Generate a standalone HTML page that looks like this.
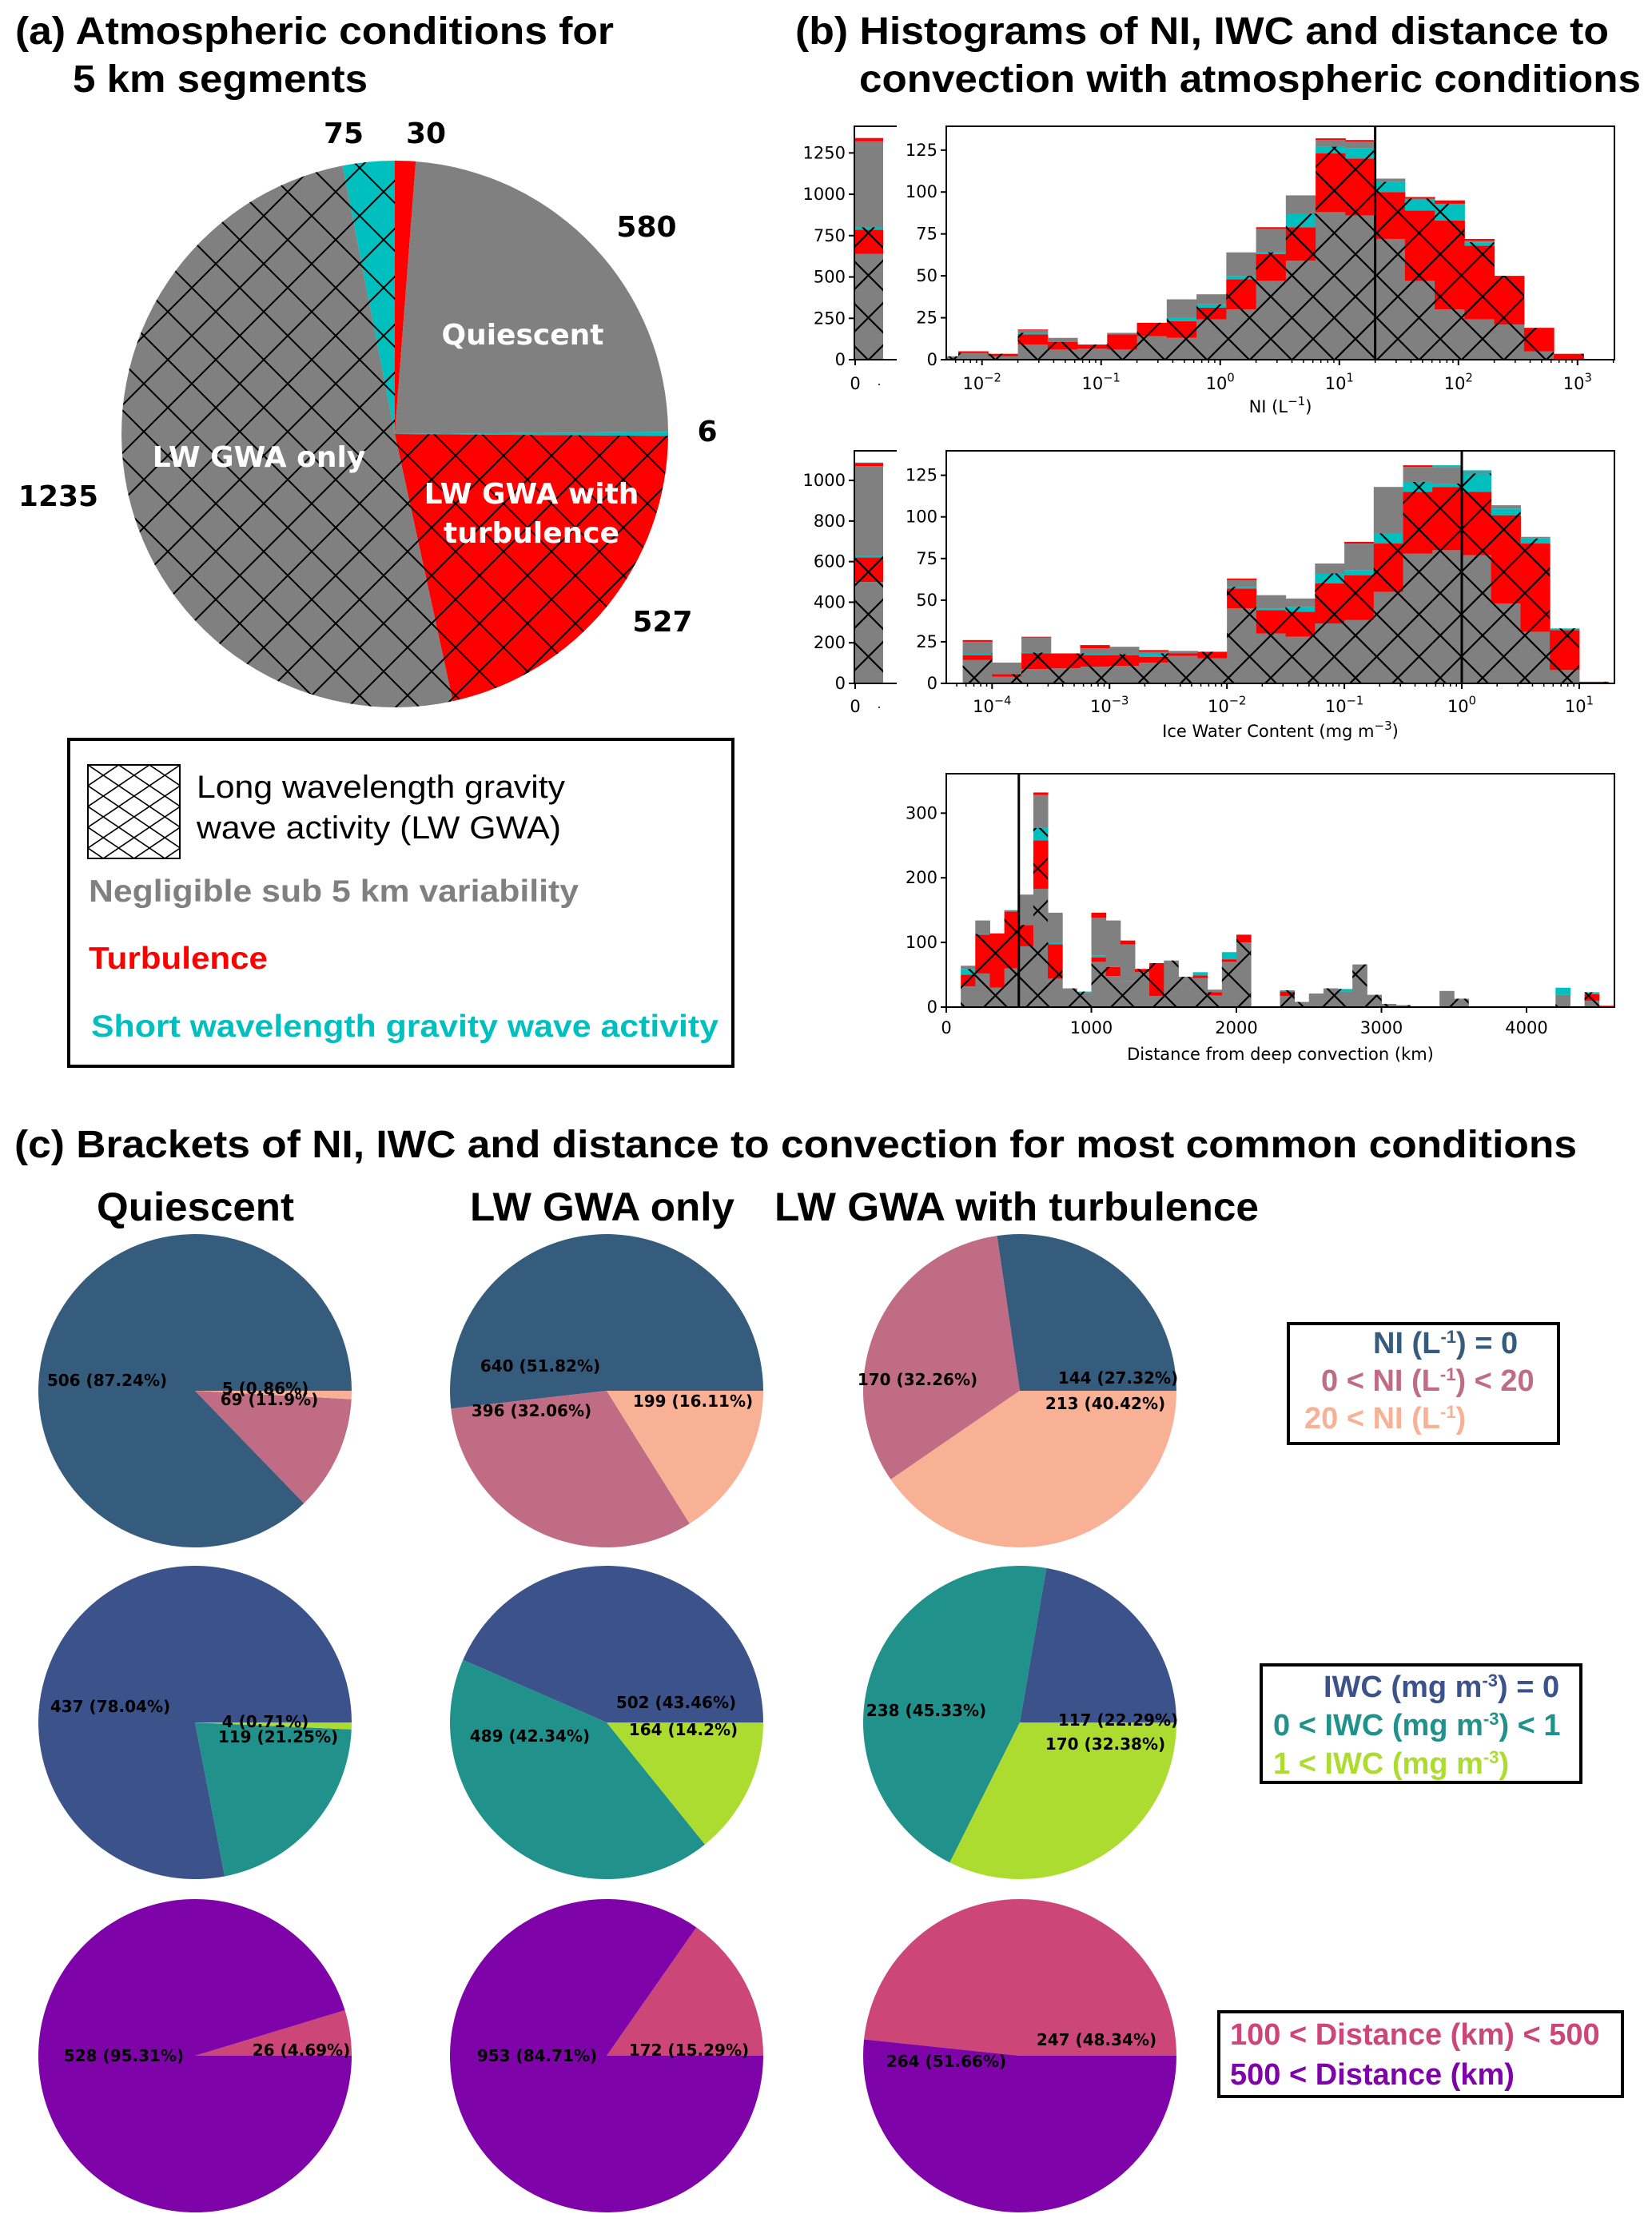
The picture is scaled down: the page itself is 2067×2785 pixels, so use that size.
<!DOCTYPE html>
<html><head><meta charset="utf-8"><style>
html,body{margin:0;padding:0;background:#fff}
svg{display:block}
.t{font-family:"Liberation Sans",Arial,sans-serif;font-weight:bold}
.d{font-family:"DejaVu Sans","Liberation Sans",sans-serif}
</style></head><body>
<svg id="fig" xmlns="http://www.w3.org/2000/svg" width="2067" height="2785" viewBox="0 0 2067 2785">
<defs>
<pattern id="hatchA" patternUnits="userSpaceOnUse" width="60" height="60"><path d="M0,0L60,60M60,0L0,60" stroke="#000" stroke-width="2" fill="none"/></pattern>
<pattern id="hatchH" patternUnits="userSpaceOnUse" width="53" height="53"><path d="M0,0L53,53M53,0L0,53" stroke="#000" stroke-width="2.2" fill="none"/></pattern>
<pattern id="hatchL" patternUnits="userSpaceOnUse" width="38.5" height="26" x="110" y="957"><path d="M0,0L38.5,26M38.5,0L0,26" stroke="#000" stroke-width="1.6" fill="none"/></pattern>
<clipPath id="clipNI"><rect x="1184" y="158" width="836" height="292"/></clipPath>
<clipPath id="clipIWC"><rect x="1184" y="564" width="836" height="291"/></clipPath>
<clipPath id="clipD"><rect x="1184" y="968" width="836" height="292"/></clipPath>
</defs>

<text class="t" x="19" y="55" font-size="48" textLength="749" lengthAdjust="spacingAndGlyphs">(a) Atmospheric conditions for</text>
<text class="t" x="91" y="115" font-size="48" textLength="369" lengthAdjust="spacingAndGlyphs">5 km segments</text>
<text class="t" x="995" y="55" font-size="48" textLength="1018" lengthAdjust="spacingAndGlyphs">(b) Histograms of NI, IWC and distance to</text>
<text class="t" x="1075" y="115" font-size="48" textLength="978" lengthAdjust="spacingAndGlyphs">convection with atmospheric conditions</text>

<g id="pieA"></g>
<g class="d" font-weight="bold" font-size="36" text-anchor="middle">
<text x="430" y="179">75</text>
<text x="533" y="179">30</text>
<text x="809" y="296">580</text>
<text x="885" y="552">6</text>
<text x="829" y="790">527</text>
<text x="73" y="633">1235</text>
<text x="654" y="431" fill="#fff">Quiescent</text>
<text x="324" y="584" fill="#fff">LW GWA only</text>
<text x="665" y="630" fill="#fff">LW GWA with</text>
<text x="665" y="679" fill="#fff">turbulence</text>
</g>

<g>
<rect x="86" y="925" width="831" height="409" fill="none" stroke="#000" stroke-width="4"/>
<rect x="110" y="957" width="115" height="117" fill="url(#hatchL)" stroke="#000" stroke-width="2"/>
<text x="246" y="998" font-family="Liberation Sans, sans-serif" font-size="40" textLength="461" lengthAdjust="spacingAndGlyphs">Long wavelength gravity</text>
<text x="246" y="1049" font-family="Liberation Sans, sans-serif" font-size="40" textLength="456" lengthAdjust="spacingAndGlyphs">wave activity (LW GWA)</text>
<text class="t" x="111" y="1128" font-size="39" fill="#808080" textLength="613" lengthAdjust="spacingAndGlyphs">Negligible sub 5 km variability</text>
<text class="t" x="111" y="1212" font-size="39" fill="#ff0000" textLength="224" lengthAdjust="spacingAndGlyphs">Turbulence</text>
<text class="t" x="114" y="1297" font-size="39" fill="#00bfbf" textLength="785" lengthAdjust="spacingAndGlyphs">Short wavelength gravity wave activity</text>
</g>

<g id="histNI"></g>
<g id="histIWC"></g>
<g id="histD"></g>

<text class="t" x="18" y="1448" font-size="48" textLength="1955" lengthAdjust="spacingAndGlyphs">(c) Brackets of NI, IWC and distance to convection for most common conditions</text>
<text class="t" x="121" y="1527" font-size="50" textLength="247" lengthAdjust="spacingAndGlyphs">Quiescent</text>
<text class="t" x="588" y="1527" font-size="50" textLength="331" lengthAdjust="spacingAndGlyphs">LW GWA only</text>
<text class="t" x="969" y="1527" font-size="50" textLength="606" lengthAdjust="spacingAndGlyphs">LW GWA with turbulence</text>

<g id="piesC"></g>

<g class="t" font-size="38">
<rect x="1612" y="1656" width="338" height="150" fill="none" stroke="#000" stroke-width="4"/>
<text x="1718" y="1693" fill="#355c7d">NI (L<tspan dy="-13" font-size="22">-1</tspan><tspan dy="13">) = 0</tspan></text>
<text x="1653" y="1740" fill="#c06c84">0 &lt; NI (L<tspan dy="-13" font-size="22">-1</tspan><tspan dy="13">) &lt; 20</tspan></text>
<text x="1632" y="1787" fill="#f8b195">20 &lt; NI (L<tspan dy="-13" font-size="22">-1</tspan><tspan dy="13">)</tspan></text>
</g>
<g class="t" font-size="38">
<rect x="1578" y="2083" width="400" height="147" fill="none" stroke="#000" stroke-width="4"/>
<text x="1656" y="2123" fill="#3b528b">IWC (mg m<tspan dy="-13" font-size="22">-3</tspan><tspan dy="13">) = 0</tspan></text>
<text x="1593" y="2171" fill="#21918c">0 &lt; IWC (mg m<tspan dy="-13" font-size="22">-3</tspan><tspan dy="13">) &lt; 1</tspan></text>
<text x="1593" y="2219" fill="#addc30">1 &lt; IWC (mg m<tspan dy="-13" font-size="22">-3</tspan><tspan dy="13">)</tspan></text>
</g>
<g class="t" font-size="38">
<rect x="1525" y="2517" width="505" height="106" fill="none" stroke="#000" stroke-width="4"/>
<text x="1539" y="2558" fill="#cc4778">100 &lt; Distance (km) &lt; 500</text>
<text x="1539" y="2608" fill="#7e03a8">500 &lt; Distance (km)</text>
</g>
</svg>
<script>
// ---------- data: panel (a) ----------
const condNames = ['turbulence-only','quiescent','short-gwa-only','lw-gwa-turbulence','lw-gwa-only','lw-gwa-short-gwa'];
const condValues = [30, 580, 6, 527, 1235, 75];
const condHatched = [false, false, false, true, true, true];

// ---------- data: panel (b) ----------
// layers: LW-only(hatched gray), LW+turb(hatched red), LW+short(hatched cyan), quiescent, turbulence, short GWA
const niBinStart = -2.449, niBinStep = 0.25;
const niGrayH = [2,4,2,9,6,6.5,6,14,13,24,30,47,59,88,86,72,47,30,24,21,5,0];
const niRedH  = [0,0,1.5,6,4.5,2.5,9,8,10,7,18,16,20,35,34,28,42,53,44,29,14,3.5];
const niCyanH = [0,0,0,1,0,0,0,0,2,2,2,1,8,4,6,6,7,10,2,0,0,0];
const niGray  = [0,0,0,1.5,2.5,0,1,0,11,6,14,14,11,4,4,2,0,0,1,0,0,0];
const niRed   = [0,1,0,0.5,0,0,0,0,0,0,0,1,0,1,1,0,1,2,1,0,0,0];
const niCyan  = [0,0,0,0,0,0,0,0,0,0,0,0,0,0,0,0,0,0,0,0,0,0];
const niZero  = [640,145,15,520,20,0];

const iwcBinStart = -4.25, iwcBinStep = 0.25;
const iwcGrayH = [14,4,8.5,9,10,10.5,12.5,16.5,15,45,30,28,36,38,55,78,80,77,48,31,8,0];
const iwcRedH  = [3,1.5,9.5,9,7,6.5,3.5,1.5,4,12,14,15,24,27,29,37,38,38,53,53,24,1];
const iwcCyanH = [1,0,0.5,0,1,0.5,2,0,0,1,1,3,6,3,6,6,2,11,4,3,1,0];
const iwcGray  = [7,7,9,0,3,4.5,1,1.5,0,4,8,5,6,16,28,9,10,1,2,1,0,0];
const iwcRed   = [1,0,0.5,0,2,0,1,0,0,1,0,0,0,1,0,1,0,0,0,0,0,0];
const iwcCyan  = [0,0,0,0,0,0,0,0,0,0,0,0,0,0,0,0,1,1,0,0,0,0];
const iwcZero  = [500,120,10,440,15,3];

const distBinStart = 100, distBinStep = 100;
const distGrayH = [32,52,30,60,94,183,44,29,22,70,48,40,54,17,72,47,45,18,70,100,0,0,17,8,21,29,24,66,19,5,3,0,0,25,13,0,0,0,0,0,0,19,0,10,0];
const distRedH  = [18,60,84,88,33,75,53,0,0,7,14,0,5,51,0,0,4,5,4,12,0,0,7,0,0,0,0,0,0,0,0,0,0,0,0,0,0,0,0,0,0,0,0,10,2];
const distCyanH = [9,1,0,2,0,19,2,0,2,3,0,0,0,0,0,0,5,0,11,0,0,0,2,0,0,0,4,0,0,0,0,0,0,0,0,0,0,0,0,0,0,11,0,3,0];
const distGray  = [5,21,0,0,47,51,47,0,0,58,72,57,0,0,0,0,0,4,0,0,0,0,0,0,0,0,0,0,0,0,0,0,0,0,0,0,0,0,0,0,0,0,0,0,0];
const distRed   = [0,0,0,0,0,4,0,0,0,8,0,6,0,0,0,0,0,0,0,0,0,0,0,0,0,0,0,0,0,0,0,0,0,0,0,0,0,0,0,0,0,0,0,0,0];
const distCyan  = [0,0,0,0,0,0,0,0,0,0,0,0,0,0,0,0,0,0,0,0,0,0,0,0,0,0,0,0,0,0,0,0,0,0,0,0,0,0,0,0,0,0,0,0,0];

const niYTicks = [0,25,50,75,100,125];
const niZeroTicks = [0,250,500,750,1000,1250];
const niXTicks = [-2,-1,0,1,2,3];
const iwcYTicks = [0,25,50,75,100,125];
const iwcZeroTicks = [0,200,400,600,800,1000];
const iwcXTicks = [-4,-3,-2,-1,0,1];
const distYTicks = [0,100,200,300];
const distXTicks = [0,1000,2000,3000,4000];
const niThreshold = 20, iwcThreshold = 1, distThreshold = 500;

// ---------- data: panel (c) ----------
const bracketCats = ['quiescent','lw-gwa-only','lw-gwa-turbulence'];
const niBrackets = [[506,69,5],[640,396,199],[144,170,213]];
const iwcBrackets = [[437,119,4],[502,489,164],[117,238,170]];
const distBrackets = [[26,528],[172,953],[247,264]];
const niLabels = [['506 (87.24%)','69 (11.9%)','5 (0.86%)'],['640 (51.82%)','396 (32.06%)','199 (16.11%)'],['144 (27.32%)','170 (32.26%)','213 (40.42%)']];
const iwcLabels = [['437 (78.04%)','119 (21.25%)','4 (0.71%)'],['502 (43.46%)','489 (42.34%)','164 (14.2%)'],['117 (22.29%)','238 (45.33%)','170 (32.38%)']];
const distLabels = [['26 (4.69%)','528 (95.31%)'],['172 (15.29%)','953 (84.71%)'],['247 (48.34%)','264 (51.66%)']];

// ---------- drawing ----------
const NS = 'http://www.w3.org/2000/svg';
function mk(tag, attrs, parent){ const e=document.createElementNS(NS,tag); for(const k in attrs) e.setAttribute(k,attrs[k]); if(parent) parent.appendChild(e); return e; }
function pt(cx,cy,r,deg){ const a=deg*Math.PI/180; return [cx+r*Math.cos(a), cy-r*Math.sin(a)]; }
function slicePath(cx,cy,r,a0,a1){
  const p0=pt(cx,cy,r,a0), p1=pt(cx,cy,r,a1);
  const large=Math.abs(a1-a0)>180?1:0, sweep=a1<a0?1:0;
  return `M${cx},${cy}L${p0[0]},${p0[1]}A${r},${r} 0 ${large} ${sweep} ${p1[0]},${p1[1]}Z`;
}
const condColors = ['#ff0000','#808080','#00bfbf','#ff0000','#808080','#00bfbf'];

// panel (a) pie: start at top, clockwise
(function(){
  const g=document.getElementById('pieA');
  const cx=494, cy=543, r=342;
  const tot=condValues.reduce((a,b)=>a+b,0);
  let cum=0;
  condValues.forEach((v,i)=>{
    const a0=90-cum/tot*360, a1=90-(cum+v)/tot*360; cum+=v;
    const d=slicePath(cx,cy,r,a0,a1);
    const s=mk('path',{d:d,fill:condColors[i]},g);
    
    
    if(condHatched[i]){
      const h=mk('path',{d:d,fill:'url(#hatchA)'},g);
      
      
    }
  });
})();

const layerColors=['#808080','#ff0000','#00bfbf','#808080','#ff0000','#00bfbf'];

function supText(parent,x,y,base,exp,size,anchor){
  const t=mk('text',{x:x,y:y,'font-size':size,'text-anchor':anchor,'class':'d'},parent);
  t.appendChild(document.createTextNode(base));
  const s=mk('tspan',{dy:-size*0.45,'font-size':size*0.7},t);
  s.textContent=exp;
  return t;
}

function drawHist(cfg){
  const g=document.getElementById(cfg.id);
  const L=1184,R=2020,T=cfg.top,B=cfg.bottom;
  const xs=v=>L+(v-cfg.xmin)/(cfg.xmax-cfg.xmin)*(R-L);
  const ys=c=>B-c/cfg.ymax*(B-T);
  const plot=mk('g',{'clip-path':'url(#'+cfg.clip+')'},g);
  
  
  const n=cfg.layers[0].length;
  for(let i=0;i<n;i++){
    const e0=cfg.start+i*cfg.step, e1=e0+cfg.step;
    const x0=xs(e0), x1=xs(e1);
    let cum=0;
    cfg.layers.forEach((arr,li)=>{
      const v=arr[i]; if(v<=0) return;
      const r=mk('rect',{x:x0,y:ys(cum+v),width:x1-x0+0.5,height:ys(cum)-ys(cum+v),fill:layerColors[li]},plot);
      
      
      cum+=v;
    });
    const hv=cfg.layers[0][i]+cfg.layers[1][i]+cfg.layers[2][i];
    if(hv>0){
      const h=mk('rect',{x:x0,y:ys(hv),width:x1-x0,height:ys(0)-ys(hv),fill:'url(#hatchH)'},plot);
      
      
    }
  }
  // threshold line
  const tl=mk('line',{x1:xs(cfg.thr),x2:xs(cfg.thr),y1:T,y2:B,stroke:'#000','stroke-width':3},g);
  
  
  const fr=mk('rect',{x:L,y:T,width:R-L,height:B-T,fill:'none',stroke:'#000','stroke-width':2},g);
  
  
  // y ticks
  cfg.yticks.forEach(v=>{
    const y=ys(v);
    mk('line',{x1:L-7,x2:L,y1:y,y2:y,stroke:'#000','stroke-width':2},g);
    const t=mk('text',{x:L-11,y:y+7,'font-size':21,'text-anchor':'end','class':'d'},g);
    t.textContent=v;
    
    
  });
  // x ticks
  if(cfg.log){
    for(let d=Math.floor(cfg.xmin);d<=Math.ceil(cfg.xmax);d++){
      for(let m=2;m<10;m++){
        const v=d+Math.log10(m); if(v<cfg.xmin||v>cfg.xmax) continue;
        mk('line',{x1:xs(v),x2:xs(v),y1:B,y2:B+4,stroke:'#000','stroke-width':1.5},g);
      }
    }
    cfg.xticks.forEach(v=>{
      mk('line',{x1:xs(v),x2:xs(v),y1:B,y2:B+7,stroke:'#000','stroke-width':2},g);
      const t=supText(g,xs(v),cfg.xlabY,'10',(v<0?'\u2212':'')+Math.abs(v),21,'middle');
      
      
    });
  } else {
    cfg.xticks.forEach(v=>{
      mk('line',{x1:xs(v),x2:xs(v),y1:B,y2:B+7,stroke:'#000','stroke-width':2},g);
      const t=mk('text',{x:xs(v),y:cfg.xlabY,'font-size':21,'text-anchor':'middle','class':'d'},g);
      t.textContent=v;
      
      
    });
  }
  // axis title
  const at=mk('text',{x:1602,y:cfg.titleY,'font-size':21,'text-anchor':'middle','class':'d'},g);
  at.appendChild(document.createTextNode(cfg.title[0]));
  if(cfg.title[1]){ const s=mk('tspan',{dy:-9,'font-size':15},at); s.textContent=cfg.title[1]; const s2=mk('tspan',{dy:9},at); s2.textContent=cfg.title[2]; }
  
  
  // zero-value side axis
  if(cfg.zero){
    const zs=c=>B-c/cfg.zmax*(B-T);
    const zx0=1069, zx1=1105;
    let cum=0;
    cfg.zero.forEach((v,li)=>{
      if(v<=0) return;
      const r=mk('rect',{x:zx0,y:zs(cum+v),width:zx1-zx0,height:zs(cum)-zs(cum+v),fill:layerColors[li]},g);
      
      
      cum+=v;
    });
    const hv=cfg.zero[0]+cfg.zero[1]+cfg.zero[2];
    const zh=mk('rect',{x:zx0,y:zs(hv),width:zx1-zx0,height:zs(0)-zs(hv),fill:'url(#hatchH)'},g);
    
    
    mk('line',{x1:1069,x2:1069,y1:T,y2:B,stroke:'#000','stroke-width':2},g);
    mk('line',{x1:1068,x2:1122,y1:T,y2:T,stroke:'#000','stroke-width':2},g);
    mk('line',{x1:1068,x2:1122,y1:B,y2:B,stroke:'#000','stroke-width':2},g);
    cfg.zticks.forEach(v=>{
      const y=zs(v);
      mk('line',{x1:1062,x2:1069,y1:y,y2:y,stroke:'#000','stroke-width':2},g);
      const t=mk('text',{x:1058,y:y+7,'font-size':21,'text-anchor':'end','class':'d'},g);
      t.textContent=v;
      
      
    });
    mk('line',{x1:1070,x2:1070,y1:B,y2:B+7,stroke:'#000','stroke-width':2},g);
    const z=mk('text',{x:1070,y:cfg.xlabY,'font-size':21,'text-anchor':'middle','class':'d'},g);
    z.textContent='0';
    
    
    mk('circle',{cx:1100,cy:cfg.xlabY-6,r:1,fill:'#000'},g);
  }
}

drawHist({id:'histNI',name:'ni-hist',clip:'clipNI',top:158,bottom:450,xmin:-2.30,xmax:3.31,ymax:139.2,log:true,
  start:niBinStart,step:niBinStep,layers:[niGrayH,niRedH,niCyanH,niGray,niRed,niCyan],thr:Math.log10(niThreshold),
  yticks:niYTicks,xticks:niXTicks,xlabY:487,titleY:516,title:['NI (L','\u22121',')'],
  zero:niZero,zmax:1411,zticks:niZeroTicks});
drawHist({id:'histIWC',name:'iwc-hist',clip:'clipIWC',top:564,bottom:855,xmin:-4.39,xmax:1.30,ymax:139.7,log:true,
  start:iwcBinStart,step:iwcBinStep,layers:[iwcGrayH,iwcRedH,iwcCyanH,iwcGray,iwcRed,iwcCyan],thr:Math.log10(iwcThreshold),
  yticks:iwcYTicks,xticks:iwcXTicks,xlabY:891,titleY:922,title:['Ice Water Content (mg m','\u22123',')'],
  zero:iwcZero,zmax:1146,zticks:iwcZeroTicks});
drawHist({id:'histD',name:'distance-hist',clip:'clipD',top:968,bottom:1260,xmin:0,xmax:4606,ymax:361,log:false,
  start:distBinStart,step:distBinStep,layers:[distGrayH,distRedH,distCyanH,distGray,distRed,distCyan],thr:distThreshold,
  yticks:distYTicks,xticks:distXTicks,xlabY:1293,titleY:1326,title:['Distance from deep convection (km)']});

// panel (c) pies: start at east, counter-clockwise
(function(){
  const g=document.getElementById('piesC');
  const colX=[244,759,1276], rowY=[1740,2155,2572], r=196;
  const rows=[
    {name:'ni',data:niBrackets,labels:niLabels,colors:['#355c7d','#c06c84','#f8b195'],
     pos:[[[134,1727],[337,1751],[332,1737]],[[676,1709],[665,1765],[867,1753]],[[1399,1724],[1148,1726],[1383,1756]]]},
    {name:'iwc',data:iwcBrackets,labels:iwcLabels,colors:['#3b528b','#21918c','#addc30'],
     pos:[[[138,2135],[348,2173],[332,2154]],[[846,2130],[663,2172],[855,2164]],[[1399,2152],[1159,2140],[1383,2182]]]},
    {name:'distance',data:distBrackets,labels:distLabels,colors:['#cc4778','#7e03a8'],
     pos:[[[377,2565],[155,2572]],[[862,2565],[672,2572]],[[1372,2552],[1184,2579]]]}
  ];
  rows.forEach((row,ri)=>{
    row.data.forEach((vals,ci)=>{
      const cx=colX[ci], cy=rowY[ri];
      const tot=vals.reduce((a,b)=>a+b,0);
      let cum=0;
      vals.forEach((v,k)=>{
        const a0=cum/tot*360, a1=(cum+v)/tot*360; cum+=v;
        const s=mk('path',{d:slicePath(cx,cy,r,a0,a1),fill:row.colors[k]},g);
        
        
      });
      vals.forEach((v,k)=>{
        const p=row.pos[ci][k];
        const t=mk('text',{x:p[0],y:p[1]+7,'font-size':20,'font-weight':'bold','text-anchor':'middle','class':'d'},g);
        t.textContent=row.labels[ci][k];
        
        
      });
    });
  });
})();
</script>
</body></html>
